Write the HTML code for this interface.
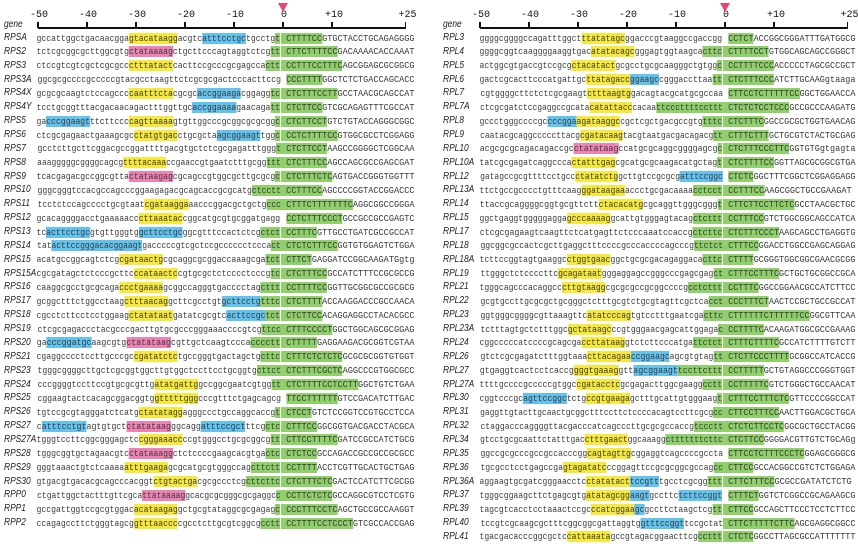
<!DOCTYPE html>
<html><head><meta charset="utf-8">
<style>
body{margin:0;background:#fff;}
#root{position:relative;width:858px;height:544px;overflow:hidden;font-family:"Liberation Sans",sans-serif;}
.gene{position:absolute;font-style:italic;font-size:10px;color:#222;line-height:12px;transform-origin:left center;transform:scaleX(0.84);white-space:nowrap;}
.pre,.post{position:absolute;font-family:"Liberation Mono",monospace;font-size:9.5px;line-height:11px;white-space:pre;color:#3a3a3a;}
.pre{transform-origin:right center;}
.post{transform-origin:left center;}
.y{background:#f6e93a;} .p{background:#ee82b4;} .b{background:#62c3ef;} .g{background:#8fd06b;}
.tick{position:absolute;width:1.5px;height:6px;background:#111;}
.tl{position:absolute;font-family:"Liberation Mono",monospace;font-size:10px;color:#111;transform:translateX(-50%);}
.axis{position:absolute;height:1.6px;background:#111;}
.tri{position:absolute;width:0;height:0;border-left:5px solid transparent;border-right:5px solid transparent;border-top:9px solid #e8446d;}
</style></head>
<body>
<div id="root"></div>
<script>
const ticks=[-50,-40,-30,-20,-10,0,10,25];
const leftGenes=["RPSA","RPS2","RPS3","RPS3A","RPS4X","RPS4Y","RPS5","RPS6","RPS7","RPS8","RPS9","RPS10","RPS11","RPS12","RPS13","RPS14","RPS15","RPS15A","RPS16","RPS17","RPS18","RPS19","RPS20","RPS21","RPS23","RPS24","RPS25","RPS26","RPS27","RPS27A","RPS28","RPS29","RPS30","RPP0","RPP1","RPP2"];
const leftSeqs=[
"gccattggctgacaacgga{ygtacataagg}acgtc{batttcctgc}tgcctg{gt CTTTTCC}GTGCTACCTGCAGAGGGG",
"tctcgcggcgcttggcgtg{pctataaaag}ctgcttcccagtaggtctcg{gtt CTTCTTTTCC}GACAAAACACCAAAT",
"ctccgtcgtcgctcgcgcc{yctttatact}cacttccgcccgcgagcca{gctt CCTTTCCTTTC}AGCGGAGCGCGGCG",
"ggcgcgccccgcccccgtacgcctaagttctcgcgcgactcccacttccg {gCCCTTTT}GGCTCTCTGACCAGCACC",
"gcgcgcaagtctccagccc{ycaatttcta}cgcgc{baccggaaga}cggagg{gtc CTCTTTCCTT}GCCTAACGCAGCCAT",
"tcctgcggtttacgacaacagactttggttgc{baccggaaaa}gaacaga{gtt CTCTTCC}GTCGCAGAGTTTCGCCAT",
"ga{bcccggaagt}ttcttccc{ycagttaaaa}gtgttggcccgcggcgcgcgg{gc CTCTTCCT}GTCTGTACCAGGGCGGC",
"ctcgcgagaactgaaagcgc{yctatgtgac}ctgcgcta{bagcggaagt}tgg{gc CCTCTTTTCC}GTGGCGCCTCGGAGG",
"gcctcttgcttcggacgccggattttgacgtgctctcgcgagatttggg{gt CTCTTCCT}AAGCCGGGGCTCGGCAA",
"aaagggggcggggcagcg{yttttacaaa}ccgaaccgtgaatctttgcgg{gttt CTCTTTCC}AGCCAGCGCCGAGCGAT",
"tcacgagacgccggcgtta{pctataagag}cgcagccgtggcgcttgcgcg{gc CTCTTTCTC}AGTGACCGGGTGGTTT",
"gggcgggtccacgccagcccggaagagacgcagcaccgcgcatg{gctcctt CCTTTCC}AGCCCCGGTACCGGACCC",
"tcctctccagcccctgcgtaat{ycgataagga}aacccggacgctgctg{gccc CTTTCTTTTTTTC}AGGCGGCCGGGA",
"gcacaggggacctgaaaaacc{ycttaaatac}cggcatgcgtgcggatgagg {gCCTCTTTCCCT}GCCGCCGCCGAGTC",
"tc{bacttcctgc}gtgttgggtg{bgcttcctgc}ggcgtttccactctcg{gctct CCTTTC}GTTGCCTGATCGCCGCCAT",
"tat{bacttccggg}{bacacggaagt}gacccccgtcgctccgcccccctccca{gct CTCTCTTTCC}GGTGTGGAGTCTGGA",
"acatgccggcagtctcg{ycgataactg}cgcaggcgcggaccaaagcga{gtct CTTCT}GAGGATCCGGCAAGATGgtg",
"cgcgatagctctcccgcttc{yccataactc}cgtgcgctctcccctcccg{gtc CTCTTTCC}GCCATCTTTCCGCGCCG",
"caaggcgcctgcgcaga{yccctgaaaa}gcggccagggtgacccctag{gcttt CCTTTTCC}GGTTGCGGCGCCGCGCG",
"gcggctttctggcctaag{yctttaacag}gcttcgcctgt{bgcttcctg}{gtttc CTCTTTT}ACCAAGGACCCGCCAACA",
"cgcctcttcctcctggaag{yctatataat}gatatcgcgtc{bacttccgc}{gtct CTCTTCC}ACAGGAGGCCTACACGCC",
"ctcgcgagaccctacgcccgacttgtgcgcccgggaaaccccgtcg{gttcc CTTTCCCCT}GGCTGGCAGCGCGGAG",
"ga{bcccggatgc}aagcgtg{pctatataag}cgttgctcaagtccca{gcccctt CTTTTT}GAGGAAGACGCGGTCGTAA",
"cgaggcccctccttgcccgc{ycgatatctc}tgccgggtgactagctg{gcttc CTTTCTCTCTC}GCGCGCGGTGTGGT",
"tgggcggggcttgctcgcggtggcttgtggctccttcctgcggtg{gcttct CTCTTTCGCTC}AGGCCCGTGGCGCC",
"cccggggtccttccgtgcgcgttg{yatatgattg}gccggcgaatcgtgg{gtt CTCTTTTCCTCCTT}GGCTGTCTGAA",
"cggaagtactcacagcggacggtg{ygtttttggg}cccgtttctgagcagcg {gTTCCTTTTTT}GTCCGACATCTTGAC",
"tgtccgcgtagggatctcatg{yctatatagg}agggccctgccaggcaccg{gt CTCCT}GTCTCCGGTCCGTGCCTCCA",
"c{batttcctgt}agtgtgct{pctatataag}ggcagg{batttccgct}ttcg{gctc CTTTCC}GGCGGTGACGACCTACGCA",
"tgggtccttcggcgggagctc{ycgggaaacc}ccgtgggcctgcgcggcg{gtt CTTCCTTTTC}GATCCGCCATCTGCG",
"tgggcggtgctagaacgtc{pctataaagg}ctctccccgaagcacgtga{gctc CTCTCC}GCCAGACCGCCGCCGCGCC",
"gggtaaactgtctcaaaa{yatttgaaga}gcgcatgcgtgggccag{gcttctt CCTTTT}ACCTCGTTGCACTGCTGAG",
"gtgacgtgacacgcagcccacggt{yctgtactga}cgcgccctcg{gcttcttc CTCTTTCTC}GACTCCATCTTCGCGG",
"ctgattggctactttgttcgca{pttataaaag}gcacgcgcgggcgcgaggc{gc CCTTCTCTC}GCCAGGCGTCCTCGTG",
"gccgattggtccgcgtggac{yacataagag}gctgcgtataggcgcgagag{gc CCCTTTCCTC}AGCTGCCGCCAAGGT",
"ccagagccttctgggtagcg{ygtttaaccc}cgcctcttgcgtcggcg{gcctt CCTTTTCCTCCCT}GTCGCCACCGAG"];
const rightGenes=["RPL3","RPL4","RPL5","RPL6","RPL7","RPL7A","RPL8","RPL9","RPL10","RPL10A","RPL12","RPL13A","RPL14","RPL15","RPL17","RPL18","RPL18A","RPL19","RPL21","RPL22","RPL23","RPL23A","RPL24","RPL26","RPL27","RPL27A","RPL30","RPL31","RPL32","RPL34","RPL35","RPL36","RPL36A","RPL37","RPL39","RPL40","RPL41"];
const rightSeqs=[
"ggggcggggccagatttggct{yttatatagc}ggacccgtaaggccgaccgg {gCCTCT}ACCGGCGGGATTTGATGGCG",
"ggggcggtcaaggggaaggtgac{yatatacagc}gggagtggtaagca{gcttc CTTTTCCT}GTGGCAGCAGCCGGGCT",
"actggcgtgaccgtccgcg{yctacatact}gcgcctgcgcaagggctgtgg{gc CCTTTTCCC}ACCCCCTAGCGCCGCT",
"gactcgcacttcccatgattgc{yttatagacc}{bggaagc}cgggaccttaa{gtt CTCTTTCCC}ATCTTGCAAGgtaaga",
"cgtggggcttctctcgcgaagt{yctttaagtg}gacagtacgcatgcgccaa {gCTTCCTCTTTTTCC}GGCTGGAACCA",
"ctcgcgatctccgaggccgcata{ycatattacc}cacaa{gttcccttttccttt CTCTCTCCTCCC}GCCGCCCAAGATG",
"gccctgggccccgc{bcccgga}{yagataaggc}cgctcgctgacgccgtg{gtttc CTCTTTC}GGCCGCGCTGGTGAACAG",
"caatacgcaggcccccttacg{ycgatacaag}tacgtaatgacgacagacg{gtt CTTTCTTT}GCTGCGTCTACTGCGAG",
"acgcgcgcagacagaccgc{pctatataag}ccatgcgcaggcggggagcg{gc CTCTTTCCCTTC}GGTGTGgtgagta",
"tatcgcgagatcaggccca{yctatttgag}cgcatgcgcaagacatgctag{gt CTCTTTTCC}GGTTAGCGCGGCGTGA",
"gatagccgcgttttcctgcc{yctatatctg}gcttgtccgcgcg{batttccggc} {gCTCTC}GGCTTTCGGCTCGGAGGAGG",
"ttctgccgcccctgtttcaag{yggataagaa}accctgcgacaaaa{gcctcct CCTTTCC}AAGCGGCTGCCGAAGAT",
"ttaccgcaggggcggtgcgttctt{yctacacatg}cgcaggttgggcggg{gt CTTCTTCCTTCTC}GCCTAACGCTGC",
"ggctgaggtgggggagga{ygcccaaaag}gcattgtgggagtacag{gctcttt CCTTTCC}GTCTGGCGGCAGCCATCA",
"ctcgcgagaagtcaagttctcatgagttctcccaaatccaccg{gctcttc CTCTTTCCCT}AAGCAGCCTGAGGTG",
"ggcggcgccactcgcttgaggctttccccgcccaccccagcccg{gttctct CTTTCC}GGACCTGGCCGAGCAGGAG",
"tcttccggtagtgaaggc{yctggtgaac}ggctgcgcgacagaggaca{gcttc CTTTT}GCGGGTGGCGGCGAACGCGG",
"ttgggctctccccttc{ygcagataat}gggaggagccgggcccgagcgag{gct CTTTCCTTTC}GCTGCTGCGGCCGCA",
"tgggcagcccacaggcc{ycttgtaagg}cgcgcgccgcggccccg{gcctcttt CCTTTC}GGCCGGAACGCCATCTTCC",
"gcgtgccttgcgcgctgcgggctctttgcgtctgcgtagttcgctca{gcct CCCTTTCT}AACTCCGCTGCCGCCAT",
"ggtgggcggggcgttaaagttc{yatatcccag}tgtcctttgaatcga{gcttc CTTTTTTCTTTTTTCC}GGCGTTCAA",
"tctttagtgctctttggc{ygctataagc}ccgtgggaacgagcattggaga{gc CCTTTTC}ACAAGATGGCGCCGAAAG",
"cggcccccatccccgcagcga{yccttataag}gtctcttcccatga{gttctct CTTTCTTTTC}GCCATCTTTTGTCTT",
"gtctcgcgagatctttggtaaa{ycttacagaa}{bccggaagc}agcgtgtag{gtt CTCTTCCCTTTT}GCGGCCATCACCG",
"gtgaggtcactcctcaccg{ygggtgaaag}gtt{bagcggaagt}{gtccttcttt CCTTTTT}GCTGTAGGCCCGGGTGGT",
"ttttgccccgcccccgtggc{ycgatacctc}gcgagacttggcgaagg{gcctt CCTTTTTC}GTCTGGGCTGCCAACAT",
"cggtcccgc{bagttccggc}tctg{yccgtgaaga}gctttgcattgtgggaag{gt CTTTCCTTTCTC}GTTCCCCGGCCAT",
"gaggttgtacttgcaactgcggctttccttctccccacagtccttcgcg{gcc CTTCCTTTCC}AACTTGGACGCTGCA",
"ctaggacccaggggttacgacccatcagcccttgcgcgccaccg{gtccctt CTCTCTTCCTC}GGCGCTGCCTACGG",
"gtcctgcgcaattctatttgac{yctttgaact}ggcaaagg{gctttttttcttc CTCTTCC}GGGGACGTTGTCTGCAGg",
"ggccgcgcccgccgccacccgg{ycagtagttg}cggaggtcagccccgccta {gCTTCCTCTTTCCCTC}GGAGCGGGCG",
"tgcgcctcctgagccga{ygtagatatc}ccggagttccgcgcggcgccag{gcc CTTCC}GCCACGGCCGTCTCTGGAGA",
"aggaagtgcgatcgggaacctc{yctatatact}{btccgtt}tgcctcgcgg{gttt CTTCTTTCC}GCGCCGATATCTCTG",
"tgggcggaagcttctgagcgtg{yatatagcgg}{baagt}gccttc{btcttccggt} {gCTTTCT}GGTCTCGGCCGCAGAAGCG",
"tagcgtcacctcctaaactccgc{yccatcggaa}{bgc}gccttctaagctcg{gtt CTTCC}GCCAGCTTCCCTCCTCTTCC",
"tccgtcgcaagcgctttcggcggcgattaggtg{bgtttccggt}tccgctat{g CTTCTTTTTCTTC}AGCGAGGCGGCC",
"tgacgacacccggcgctc{ycattaaata}gccgtagacggaacttcg{gccttt CTCTC}GGCCTTAGCGCCATTTTTTT"];

const root=document.getElementById('root');
const CH=4.9, FW=9.5*0.6;

function parse(s){
  const out=[];let cls='';
  for(let i=0;i<s.length;i++){
    const c=s[i];
    if(c==='{'){cls=s[i+1];i++;continue;}
    if(c==='}'){cls='';continue;}
    out.push([c,cls]);
  }
  return out;
}
function toHTML(arr){
  let h='',cur=null,buf='';
  const flush=()=>{if(buf){h+=cur?'<span class="'+cur+'">'+buf+'</span>':buf;}buf='';};
  for(const [c,k] of arr){ if(k!==cur){flush();cur=k;} buf+=c; }
  flush();return h;
}
function panel(side,genes,seqs,x0,labelX,startX,endX){
  const xs=v=>x0+v*CH;
  const ax=document.createElement('div');ax.className='axis';
  
  
  ax.style.left=xs(-50)+'px';ax.style.width=(xs(25)-xs(-50))+'px';ax.style.top='27px';root.appendChild(ax);
  ticks.forEach(t=>{
    const tk=document.createElement('div');tk.className='tick';
    
    
    tk.style.left=(xs(t)-0.75)+'px';tk.style.top='22px';root.appendChild(tk);
    const tl=document.createElement('div');tl.className='tl';
    
    
    tl.textContent=t>0?'+'+t:String(t);
    tl.style.left=(xs(t)+(t>0?2:1))+'px';tl.style.top='10px';root.appendChild(tl);
  });
  const tri=document.createElement('div');tri.className='tri';
  
  
  tri.style.left=(xs(0)-5)+'px';tri.style.top='3px';root.appendChild(tri);
  const g=document.createElement('div');g.className='gene';g.textContent='gene';
  
  
  g.style.left=labelX+'px';g.style.top='19px';root.appendChild(g);
  const split=x0-CH/2;
  genes.forEach((gn,i)=>{
    const yc=38+i*13.86;
    const lab=document.createElement('div');lab.className='gene';lab.textContent=gn;
    
    
    lab.style.left=labelX+'px';lab.style.top=(yc-6)+'px';root.appendChild(lab);
    const arr=parse(seqs[i]);
    let sp=arr.findIndex(a=>a[0]===' ');
    const pre=arr.slice(0,sp),post=arr.slice(sp);
    const pe=document.createElement('div');pe.className='pre';
    
    
    pe.innerHTML=toHTML(pre);
    pe.style.right=(858-split)+'px';pe.style.top=(yc-5.5)+'px';
    const sPre=Math.min((split-startX)/(pre.length*FW), CH/FW*1.02);
    pe.style.transform='scaleX('+sPre+')';root.appendChild(pe);
    const po=document.createElement('div');po.className='post';
    
    
    po.innerHTML=toHTML(post);
    po.style.left=split+'px';po.style.top=(yc-5.5)+'px';
    const sPost=Math.min((endX-split)/(post.length*FW), CH/FW*1.05);
    po.style.transform='scaleX('+sPost+')';root.appendChild(po);
  });
}
panel('left',leftGenes,leftSeqs,283,4,37,414);
panel('right',rightGenes,rightSeqs,725,443,480,855);
</script>
</body></html>
